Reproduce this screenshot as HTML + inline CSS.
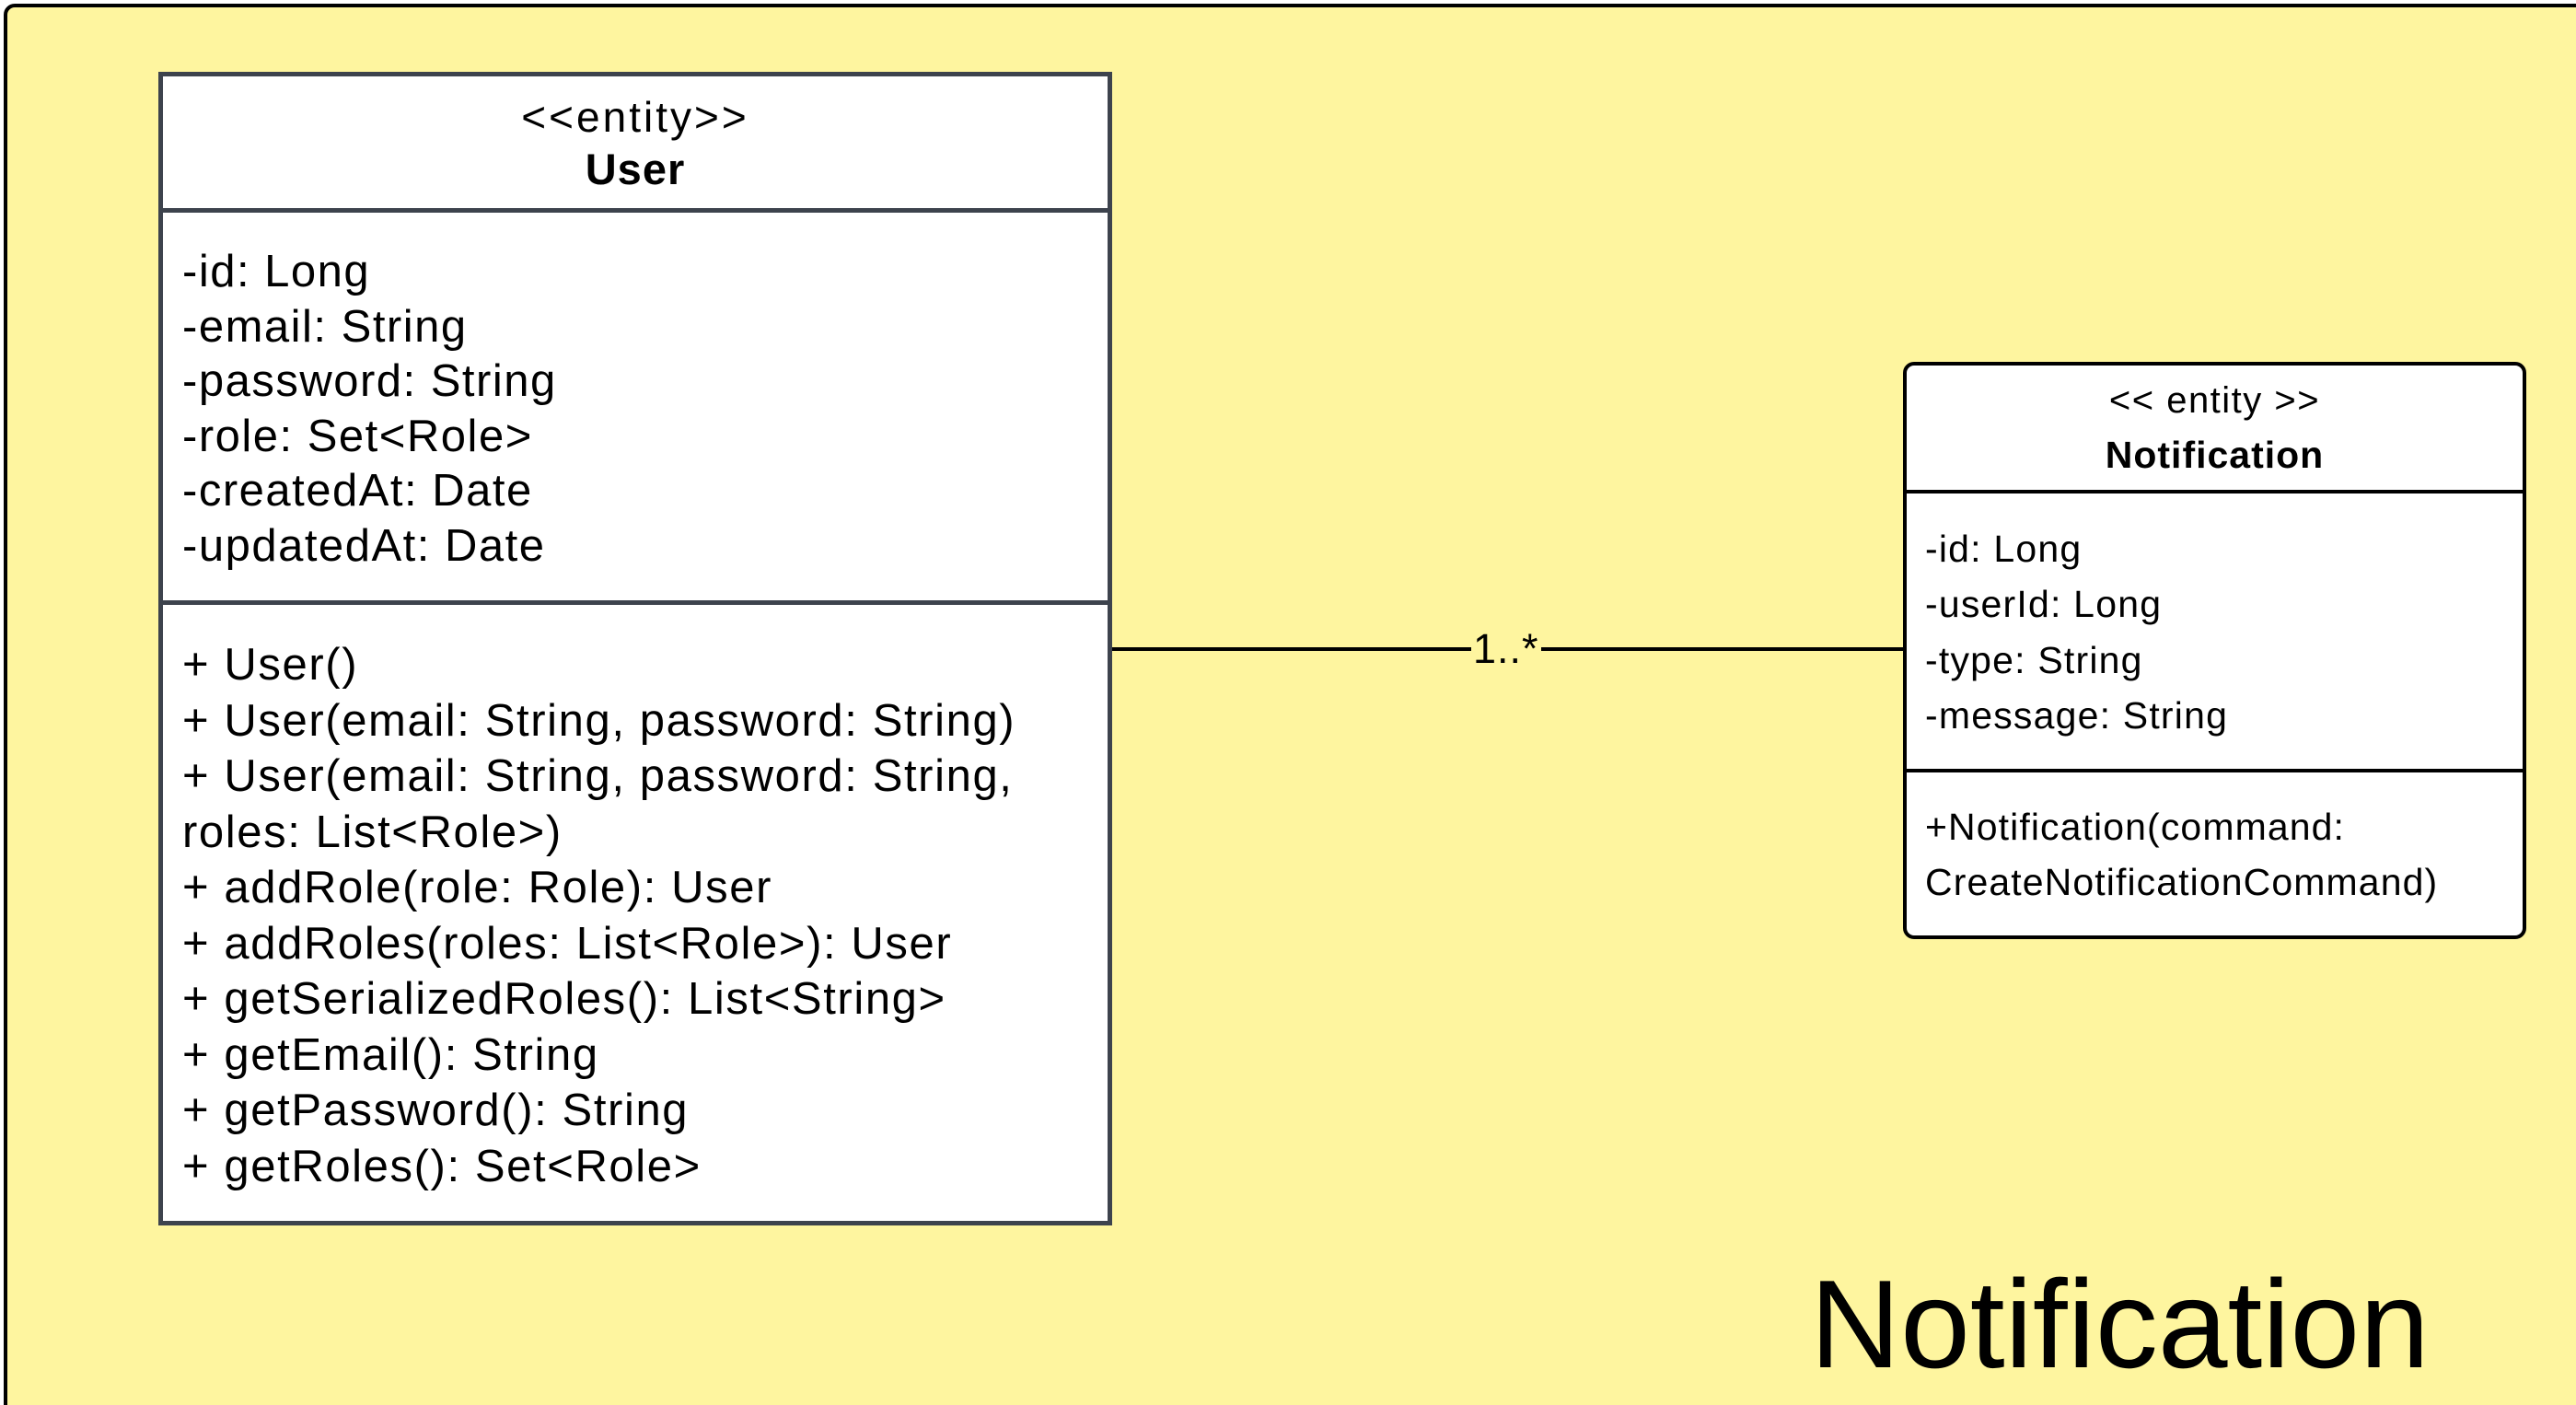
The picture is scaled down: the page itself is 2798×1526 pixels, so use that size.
<!DOCTYPE html>
<html><head><meta charset="utf-8"><style>
html,body{margin:0;padding:0;overflow:hidden;width:2798px;height:1526px;}
body{position:relative;background:#fff;font-family:"Liberation Sans",sans-serif;color:#000;}
.frame{position:absolute;left:4px;top:4px;width:2840px;height:1560px;background:#fef59f;border:4px solid #000;border-radius:12px;box-sizing:border-box;}
.box{position:absolute;background:#fff;box-sizing:border-box;}
.t{position:absolute;white-space:nowrap;}
.hl{position:absolute;}
</style></head><body>
<div class="frame"></div>

<!-- User -->
<div class="box" style="left:172px;top:78px;width:1036px;height:1253px;border:5px solid #3d434d;"></div>
<div class="hl" style="left:172px;top:226px;width:1036px;height:5px;background:#3d434d;"></div>
<div class="hl" style="left:172px;top:652px;width:1036px;height:5px;background:#3d434d;"></div>
<div class="t" style="left:172px;width:1036px;text-align:center;top:100px;line-height:54px;font-size:46px;letter-spacing:3px;">&lt;&lt;entity&gt;&gt;</div>
<div class="t" style="left:172px;width:1036px;text-align:center;top:157px;line-height:54px;font-size:47px;font-weight:bold;letter-spacing:1px;">User</div>
<div class="t" style="left:198px;top:266px;line-height:59.6px;font-size:49px;letter-spacing:1.5px;">-id: Long<br>-email: String<br>-password: String<br>-role: Set&lt;Role&gt;<br>-createdAt: Date<br>-updatedAt: Date</div>
<div class="t" style="left:198px;top:692px;line-height:60.5px;font-size:49px;letter-spacing:1.6px;">+ User()<br>+ User(email: String, password: String)<br>+ User(email: String, password: String,<br>roles: List&lt;Role&gt;)<br>+ addRole(role: Role): User<br>+ addRoles(roles: List&lt;Role&gt;): User<br>+ getSerializedRoles(): List&lt;String&gt;<br>+ getEmail(): String<br>+ getPassword(): String<br>+ getRoles(): Set&lt;Role&gt;</div>

<!-- connector -->
<div class="hl" style="left:1208px;top:703px;width:860px;height:4px;background:#000;"></div>
<div class="t" style="left:1598px;top:679px;line-height:52px;font-size:45px;background:#fef59f;padding:0 2px;letter-spacing:1px;">1..*</div>

<!-- Notification -->
<div class="box" style="left:2067px;top:393px;width:677px;height:627px;border:4px solid #000;border-radius:12px;"></div>
<div class="hl" style="left:2067px;top:532px;width:677px;height:4px;background:#000;"></div>
<div class="hl" style="left:2067px;top:835px;width:677px;height:4px;background:#000;"></div>
<div class="t" style="left:2067px;width:677px;text-align:center;top:411px;line-height:48px;font-size:40px;letter-spacing:1.5px;">&lt;&lt; entity &gt;&gt;</div>
<div class="t" style="left:2067px;width:677px;text-align:center;top:470px;line-height:48px;font-size:41px;font-weight:bold;letter-spacing:1px;">Notification</div>
<div class="t" style="left:2091px;top:566px;line-height:60.3px;font-size:41px;letter-spacing:1.2px;">-id: Long<br>-userId: Long<br>-type: String<br>-message: String</div>
<div class="t" style="left:2091px;top:868px;line-height:60.3px;font-size:41px;letter-spacing:1.1px;">+Notification(command:<br>CreateNotificationCommand)</div>

<div class="t" style="left:1966px;top:1358px;line-height:160px;font-size:136px;">Notification</div>
</body></html>
